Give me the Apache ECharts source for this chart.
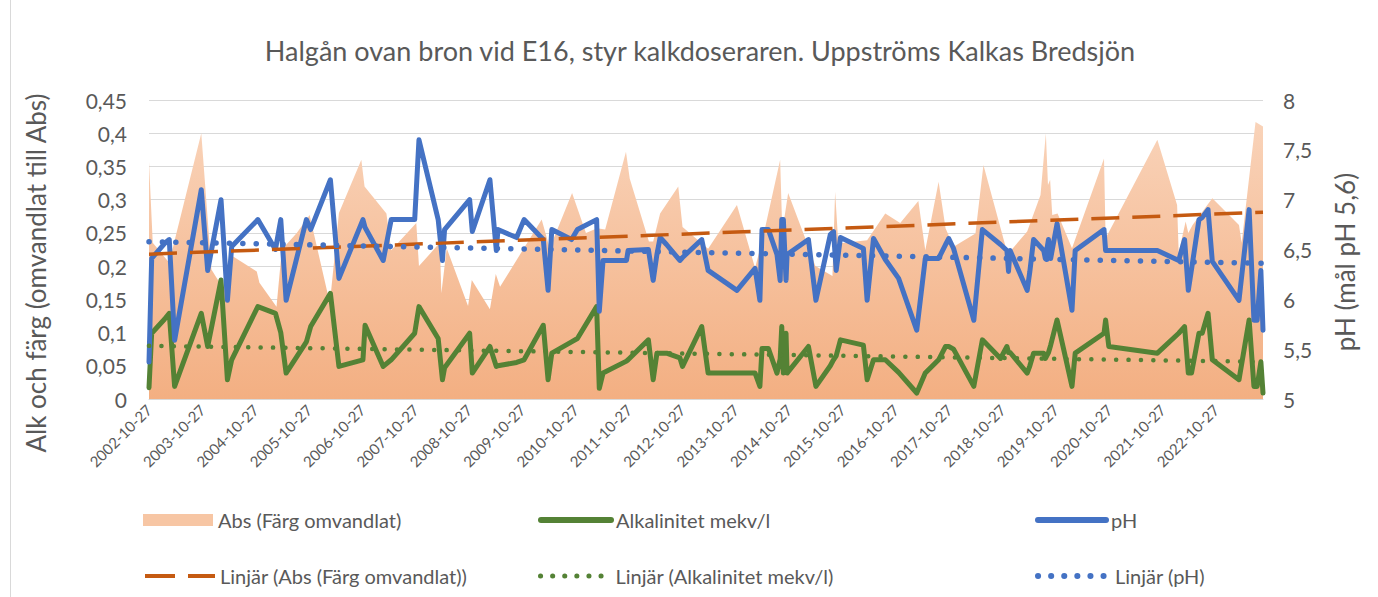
<!DOCTYPE html>
<html><head><meta charset="utf-8">
<script src="https://cdn.jsdelivr.net/npm/echarts@6/dist/echarts.min.js"></script>
<style>html,body{margin:0;padding:0;background:#fff}#c{width:1378px;height:597px}</style>
</head><body><div id="c"></div>
<script>
// Axis origin: 2002-10-27 expressed as a decimal year
const START_YEAR = 2002.82;
const END_YEAR = 2023.70;
const tickLabels = ['2002-10-27','2003-10-27','2004-10-27','2005-10-27','2006-10-27','2007-10-27','2008-10-27','2009-10-27','2010-10-27','2011-10-27','2012-10-27','2013-10-27','2014-10-27','2015-10-27','2016-10-27','2017-10-27','2018-10-27','2019-10-27','2020-10-27','2021-10-27','2022-10-27'];

// Sampling dates (decimal years) shared by alkalinity and pH
const sampleYears = [2002.82,2002.87,2003.11,2003.20,2003.30,2003.80,2003.92,2004.17,2004.29,2004.37,2004.86,2005.19,2005.29,2005.39,2005.77,2005.85,2006.22,2006.38,2006.83,2006.87,2007.21,2007.36,2007.80,2007.88,2008.24,2008.32,2008.36,2008.83,2008.88,2009.21,2009.33,2009.36,2009.71,2009.85,2010.21,2010.30,2010.37,2010.74,2010.85,2011.21,2011.26,2011.33,2011.77,2011.80,2012.18,2012.27,2012.34,2012.40,2012.52,2012.77,2012.82,2013.18,2013.30,2013.84,2014.18,2014.27,2014.31,2014.43,2014.59,2014.65,2014.68,2014.71,2014.76,2014.78,2015.18,2015.32,2015.59,2015.65,2015.70,2015.78,2016.21,2016.28,2016.40,2016.62,2016.87,2017.21,2017.37,2017.62,2017.75,2017.81,2017.90,2018.28,2018.44,2018.78,2018.90,2018.93,2018.96,2019.28,2019.33,2019.40,2019.59,2019.62,2019.68,2019.72,2019.84,2020.12,2020.18,2020.72,2020.75,2020.81,2021.72,2022.12,2022.23,2022.30,2022.36,2022.50,2022.56,2022.67,2022.75,2023.25,2023.44,2023.53,2023.59,2023.66,2023.70];
const phValues = [5.37,6.41,6.56,6.60,5.59,7.10,6.29,7.00,5.99,6.53,6.80,6.50,6.80,5.99,6.80,6.70,7.20,6.21,6.80,6.72,6.39,6.80,6.80,7.60,6.80,6.39,6.70,7.00,6.68,7.20,6.49,6.70,6.62,6.80,6.60,6.09,6.70,6.60,6.70,6.80,5.88,6.39,6.39,6.49,6.50,6.19,6.45,6.62,6.55,6.39,6.42,6.60,6.29,6.09,6.31,5.99,6.70,6.70,6.45,6.19,6.80,6.80,6.19,6.45,6.60,5.99,6.65,6.68,6.29,6.62,6.51,5.99,6.61,6.40,6.21,5.69,6.41,6.41,6.55,6.61,6.51,5.79,6.70,6.55,6.49,6.28,6.49,6.09,6.28,6.60,6.49,6.41,6.60,6.41,6.76,5.89,6.49,6.70,6.49,6.49,6.49,6.39,6.60,6.09,6.30,6.80,6.82,6.90,6.38,5.99,6.90,5.79,5.79,6.29,5.69];
const alkValues = [0.017,0.099,0.120,0.129,0.019,0.129,0.079,0.179,0.029,0.059,0.139,0.129,0.100,0.039,0.086,0.109,0.159,0.049,0.059,0.111,0.049,0.059,0.099,0.139,0.091,0.029,0.047,0.099,0.039,0.079,0.049,0.050,0.055,0.059,0.111,0.029,0.069,0.086,0.091,0.139,0.016,0.039,0.057,0.059,0.089,0.029,0.069,0.069,0.069,0.062,0.049,0.109,0.039,0.039,0.039,0.019,0.076,0.076,0.039,0.060,0.109,0.039,0.099,0.039,0.079,0.019,0.050,0.059,0.065,0.089,0.081,0.029,0.059,0.059,0.040,0.009,0.039,0.059,0.079,0.079,0.075,0.019,0.089,0.061,0.079,0.070,0.070,0.039,0.050,0.069,0.069,0.061,0.070,0.081,0.119,0.019,0.069,0.099,0.119,0.079,0.069,0.099,0.109,0.039,0.039,0.099,0.099,0.129,0.059,0.029,0.119,0.019,0.019,0.056,0.009];

// Colour converted to absorbance
const absYears = [2002.82,2002.89,2003.20,2003.32,2003.80,2003.99,2004.22,2004.39,2004.84,2004.89,2005.21,2005.31,2005.59,2005.83,2006.21,2006.38,2006.80,2006.86,2007.27,2007.36,2007.83,2007.88,2008.27,2008.30,2008.40,2008.80,2008.87,2009.21,2009.32,2009.40,2010.18,2010.33,2010.75,2011.01,2011.22,2011.37,2011.76,2011.83,2012.19,2012.27,2012.40,2012.74,2012.82,2013.30,2013.84,2014.18,2014.33,2014.65,2014.69,2014.80,2015.12,2015.31,2015.63,2015.68,2015.74,2016.28,2016.62,2016.90,2017.24,2017.37,2017.62,2017.75,2017.90,2018.31,2018.46,2018.90,2018.96,2019.28,2019.53,2019.63,2019.67,2019.71,2019.75,2019.85,2020.12,2020.72,2020.75,2021.72,2022.09,2022.12,2022.25,2022.30,2022.38,2022.75,2023.25,2023.30,2023.56,2023.70];
const absValues = [0.357,0.235,0.205,0.245,0.400,0.195,0.165,0.215,0.192,0.175,0.139,0.225,0.250,0.277,0.144,0.280,0.360,0.320,0.279,0.224,0.265,0.200,0.235,0.159,0.227,0.140,0.179,0.135,0.188,0.169,0.270,0.227,0.310,0.250,0.257,0.255,0.372,0.332,0.237,0.237,0.279,0.320,0.259,0.226,0.292,0.197,0.244,0.360,0.252,0.310,0.242,0.200,0.185,0.312,0.234,0.239,0.279,0.265,0.298,0.224,0.327,0.257,0.229,0.249,0.352,0.222,0.222,0.252,0.307,0.400,0.322,0.330,0.277,0.279,0.227,0.362,0.242,0.390,0.292,0.220,0.267,0.250,0.262,0.302,0.262,0.235,0.417,0.410];

// Linear trend lines (end points)
const trendYears = [2002.82, 2023.70];
const trendAbs = [0.218, 0.281];
const trendAlk = [0.080, 0.056];
const trendPH = [6.578, 6.361];

const FONT = 'Lato';
const TXT = '#595959';
const toX = y => +(y - START_YEAR).toFixed(4);
const pairs = (xs, ys) => xs.map((x, i) => [toX(x), ys[i]]);
const comma = v => String(Math.round(v * 100) / 100).replace('.', ',');

const chart = echarts.init(document.getElementById('c'), null, {renderer: 'svg'});
chart.setOption({
  animation: false,
  backgroundColor: '#ffffff',
  textStyle: {fontFamily: FONT},
  graphic: [
    {type: 'text', x: 700, y: 50, style: {text: 'Halgån ovan bron vid E16, styr kalkdoseraren. Uppströms Kalkas Bredsjön', font: '27px ' + FONT, fill: TXT, textAlign: 'center', textVerticalAlign: 'middle'}},
    {type: 'text', x: 36, y: 273, rotation: Math.PI / 2, style: {text: 'Alk och färg (omvandlat till Abs)', font: '26px ' + FONT, fill: TXT, textAlign: 'center', textVerticalAlign: 'middle'}},
    {type: 'text', x: 1345, y: 262, rotation: Math.PI / 2, style: {text: 'pH (mål pH 5,6)', font: '26px ' + FONT, fill: TXT, textAlign: 'center', textVerticalAlign: 'middle'}},
    {type: 'line', shape: {x1: 10.5, y1: 0, x2: 10.5, y2: 597}, style: {stroke: '#d9d9d9', lineWidth: 1}}
  ],
  grid: {left: 149, right: 115, top: 100, bottom: 198, containLabel: false},
  xAxis: {
    type: 'value', min: 0, max: toX(END_YEAR), interval: 1,
    axisLine: {show: true, lineStyle: {color: '#d9d9d9', width: 1}},
    axisTick: {show: false}, splitLine: {show: false},
    axisLabel: {
      rotate: 45, fontSize: 15, color: TXT, margin: 8, fontFamily: FONT,
      formatter: v => { const i = Math.round(v); return (Math.abs(v - i) < 1e-6 && tickLabels[i]) ? tickLabels[i] : ''; }
    }
  },
  yAxis: [
    {
      type: 'value', min: 0, max: 0.45, interval: 0.05, position: 'left',
      axisLine: {show: false}, axisTick: {show: false},
      splitLine: {show: true, lineStyle: {color: '#d9d9d9', width: 1}},
      axisLabel: {fontSize: 21, color: TXT, margin: 22, fontFamily: FONT, formatter: comma}
    },
    {
      type: 'value', min: 5, max: 8, interval: 0.5, position: 'right',
      axisLine: {show: false}, axisTick: {show: false}, splitLine: {show: false},
      axisLabel: {fontSize: 21, color: TXT, margin: 20, fontFamily: FONT, formatter: comma}
    }
  ],
  legend: [
    {data: [{name: 'Abs (Färg omvandlat)', icon: 'rect'}], left: 143, top: 510},
    {data: ['Alkalinitet mekv/l'], left: 538, top: 510, itemStyle: {opacity: 0},
      lineStyle: {width: 6, color: '#548235', cap: 'round'}},
    {data: ['pH'], left: 1035, top: 510, itemStyle: {opacity: 0}, itemWidth: 68,
      lineStyle: {width: 6, color: '#4472c4', cap: 'round'}},
    {data: ['Linjär (Abs (Färg omvandlat))'], left: 143, top: 566, itemStyle: {opacity: 0},
      lineStyle: {width: 4, color: '#c55a11', type: [30, 13], cap: 'butt'}},
    {data: ['Linjär (Alkalinitet mekv/l)'], left: 538, top: 566, itemStyle: {opacity: 0},
      lineStyle: {width: 5, color: '#548235', type: [0.1, 12], cap: 'round'}},
    {data: ['Linjär (pH)'], left: 1035, top: 566, itemStyle: {opacity: 0}, itemWidth: 72,
      lineStyle: {width: 6, color: '#4472c4', type: [0.1, 13], cap: 'round'}}
  ].map(l => Object.assign({
    orient: 'horizontal', itemWidth: 70, itemHeight: 12, padding: 0, selectedMode: false,
    textStyle: {fontSize: 20, color: TXT, fontFamily: FONT}
  }, l)),
  series: [
    {
      name: 'Abs (Färg omvandlat)', type: 'line', yAxisIndex: 0, z: 1,
      data: pairs(absYears, absValues), symbol: 'none', smooth: false,
      itemStyle: {color: '#f7c6a4'},
      lineStyle: {width: 0},
      areaStyle: {opacity: 1, color: new echarts.graphic.LinearGradient(0, 0, 0, 1, [
        {offset: 0, color: '#f9d3b9'}, {offset: 1, color: '#f3af82'}
      ])}
    },
    {
      name: 'Alkalinitet mekv/l', type: 'line', yAxisIndex: 0, z: 3,
      data: pairs(sampleYears, alkValues), symbol: 'none',
      itemStyle: {color: '#548235'},
      lineStyle: {color: '#548235', width: 5, join: 'round', cap: 'round'}
    },
    {
      name: 'pH', type: 'line', yAxisIndex: 1, z: 4,
      data: pairs(sampleYears, phValues), symbol: 'none',
      itemStyle: {color: '#4472c4'},
      lineStyle: {color: '#4472c4', width: 5, join: 'round', cap: 'round'}
    },
    {
      name: 'Linjär (Abs (Färg omvandlat))', type: 'line', yAxisIndex: 0, z: 5,
      data: pairs(trendYears, trendAbs), symbol: 'none',
      itemStyle: {color: '#c55a11'},
      lineStyle: {color: '#c55a11', width: 3.5, type: [28, 13], cap: 'butt'}
    },
    {
      name: 'Linjär (Alkalinitet mekv/l)', type: 'line', yAxisIndex: 0, z: 5,
      data: pairs(trendYears, trendAlk), symbol: 'none',
      itemStyle: {color: '#548235'},
      lineStyle: {color: '#548235', width: 4.5, type: [0.1, 12.3], cap: 'round'}
    },
    {
      name: 'Linjär (pH)', type: 'line', yAxisIndex: 1, z: 5,
      data: pairs(trendYears, trendPH), symbol: 'none',
      itemStyle: {color: '#4472c4'},
      lineStyle: {color: '#4472c4', width: 5.5, type: [0.1, 13.3], cap: 'round'}
    }
  ]
});
</script>
</body></html>
